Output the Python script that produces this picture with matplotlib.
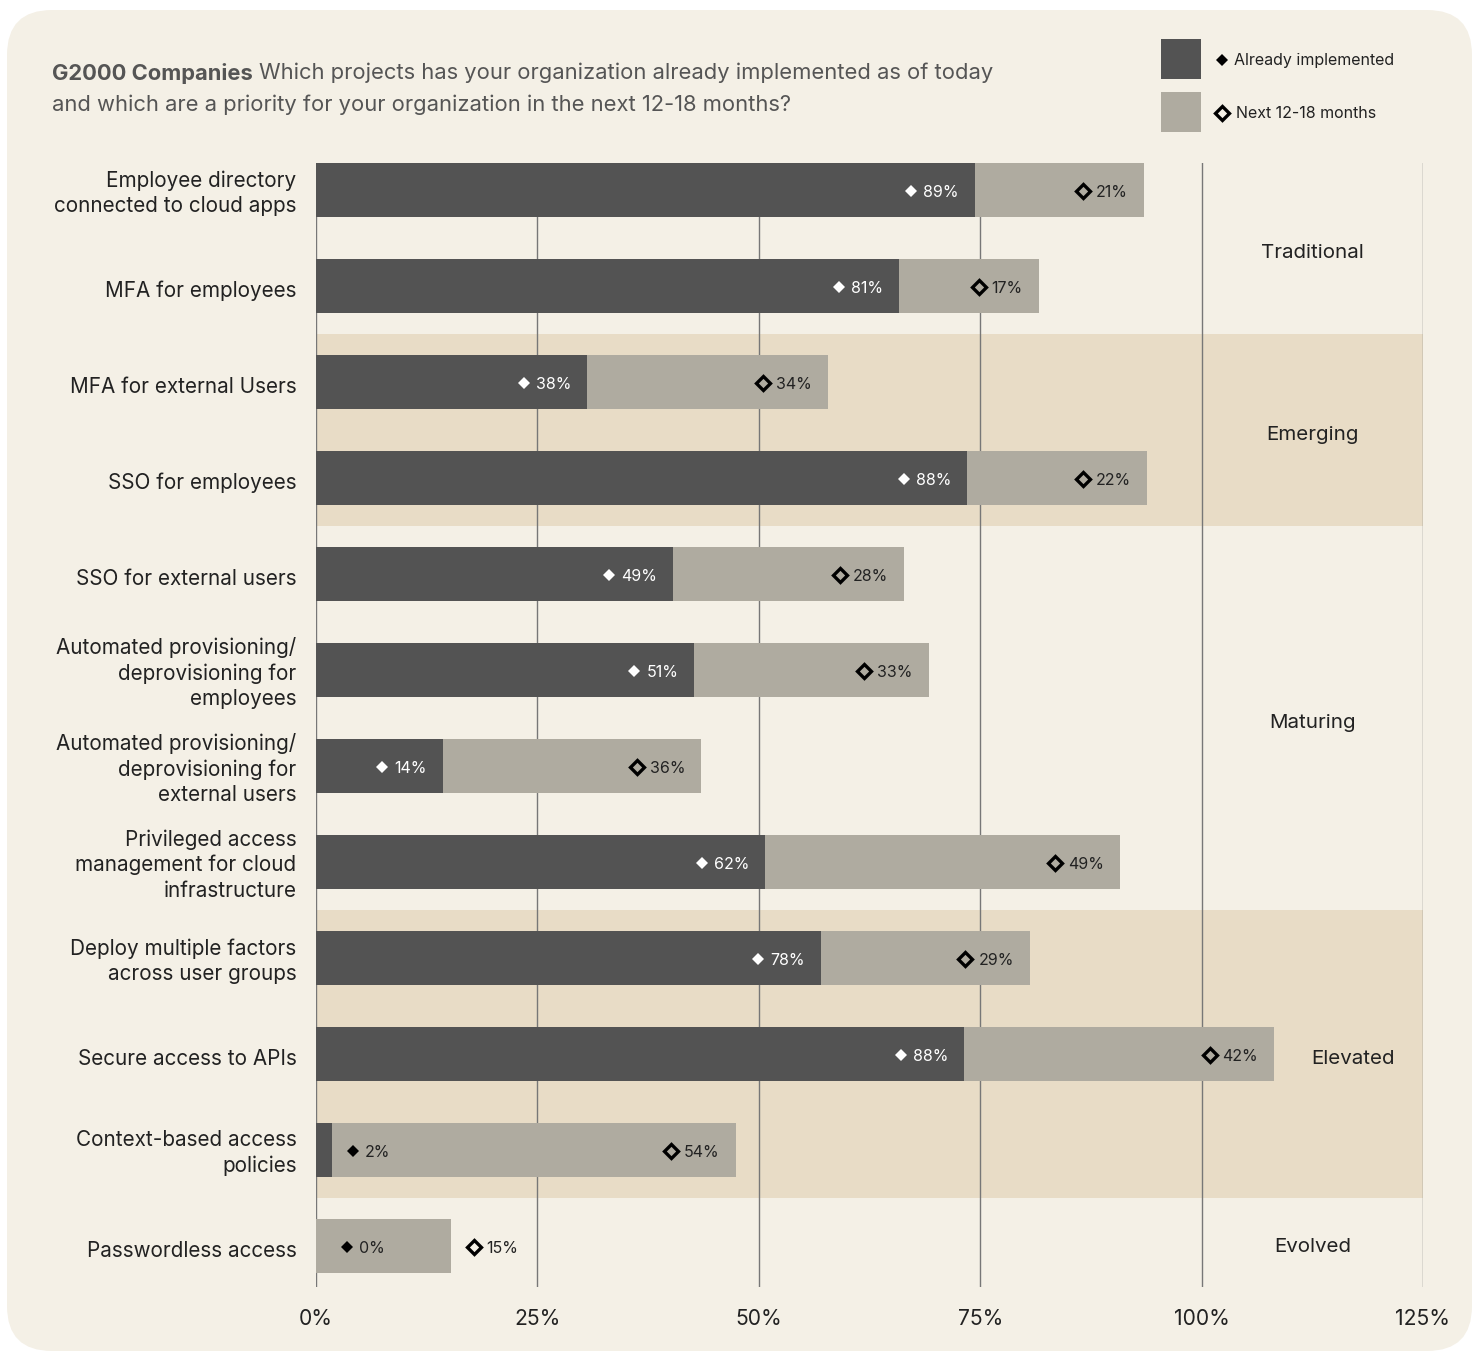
import matplotlib
matplotlib.use('Agg')
import matplotlib.pyplot as plt
from matplotlib.patches import FancyBboxPatch, Rectangle
import numpy as np

plt.rcParams['font.family'] = ['Inter', 'DejaVu Sans']

# Data
categories = [
    'Employee directory\nconnected to cloud apps',
    'MFA for employees',
    'MFA for external Users',
    'SSO for employees',
    'SSO for external users',
    'Automated provisioning/\ndeprovisioning for\nemployees',
    'Automated provisioning/\ndeprovisioning for\nexternal users',
    'Privileged access\nmanagement for cloud\ninfrastructure',
    'Deploy multiple factors\nacross user groups',
    'Secure access to APIs',
    'Context-based access\npolicies',
    'Passwordless access',
]
# bar lengths as drawn (percent of axis)
implemented_bar = [74.4, 65.8, 30.6, 73.5, 40.3, 42.7, 14.3, 50.7, 57.0, 73.2, 1.8, 0.0]
next_bar = [19.1, 15.8, 27.2, 20.3, 26.1, 26.5, 29.2, 40.1, 23.6, 35.0, 45.6, 15.2]
# labelled values
implemented_pct = [89, 81, 38, 88, 49, 51, 14, 62, 78, 88, 2, 0]
next_pct = [21, 17, 34, 22, 28, 33, 36, 49, 29, 42, 54, 15]

stages = ['Traditional', 'Emerging', 'Maturing', 'Elevated', 'Evolved']
stage_first = [0, 2, 4, 8, 11]
stage_last = [1, 3, 7, 10, 11]
stage_shaded = [False, True, False, True, False]
x_ticks = [0, 25, 50, 75, 100, 125]

# colours
BG = '#F4F0E6'
BAND = '#E8DCC6'
DARK = '#535353'
LIGHT = '#AFABA0'
GRID = '#777777'
TXT = '#222222'

W, H = 1483, 1353
fig = plt.figure(figsize=(W / 100, H / 100), dpi=100)
fig.patch.set_facecolor('white')

# overlay axes in pixel coords for background, title and legend
ovl = fig.add_axes([0, 0, 1, 1], zorder=0)
ovl.set_xlim(0, W)
ovl.set_ylim(H, 0)
ovl.axis('off')
ovl.add_patch(FancyBboxPatch((7, 10), 1465, 1341,
                             boxstyle='round,pad=0,rounding_size=45',
                             facecolor=BG, edgecolor='none'))

# main axes
top_px, bot_px, left_px, right_px = 163, 1287, 316, 1423
ax = fig.add_axes([left_px / W, 1 - bot_px / H, (right_px - left_px) / W,
                   (bot_px - top_px) / H], zorder=1)
ax.set_facecolor('none')
row_px = 96
y_top = -(190 - top_px) / row_px
y_bot = 11 + (bot_px - 1246) / row_px
ax.set_xlim(0, 125)
ax.set_ylim(y_bot, y_top)

y = np.arange(len(categories))

# stage bands
for first, last, shaded in zip(stage_first, stage_last, stage_shaded):
    if shaded:
        ax.axhspan(first - 0.5, last + 0.5, color=BAND, zorder=0, lw=0)

for t in x_ticks:
    ax.axvline(t, color=GRID, lw=1, zorder=1)

bar_h = 0.57
ax.barh(y, implemented_bar, height=bar_h, color=DARK, zorder=2)
ax.barh(y, next_bar, left=implemented_bar, height=bar_h, color=LIGHT, zorder=2)

ax.set_xticks(x_ticks, [f'{t}%' for t in x_ticks])
ax.set_yticks(y + 0.03, categories)
ax.tick_params(axis='x', length=0, pad=16, labelsize=15.2, labelcolor=TXT)
ax.tick_params(axis='y', length=0, pad=14, labelsize=14.9, labelcolor=TXT)
for lab in ax.get_yticklabels():
    lab.set_linespacing(1.32)
    if '\n' in lab.get_text():
        lab.set_va('center')
for s in ax.spines.values():
    s.set_visible(False)

# stage labels
for i, name in enumerate(stages):
    lo = stage_first[i] - 0.5 if i > 0 else y_top
    hi = stage_last[i] + 0.5 if i < len(stages) - 1 else y_bot
    xpos = 117.1 if name == 'Elevated' else 112.5
    ax.text(xpos, (lo + hi) / 2 + 0.05, name, ha='center', va='center',
            fontsize=14.8, color=TXT, zorder=3)

# value labels with diamonds
fig.canvas.draw()
renderer = fig.canvas.get_renderer()
inv = ax.transData.inverted()
px_unit = 125 / (right_px - left_px)
pad = 16 * px_unit
gap = 12 * px_unit
gap_h = 13 * px_unit
lab_fs = 11.5
dy = 0.015

for i in range(len(categories)):
    end1 = implemented_bar[i]
    end2 = implemented_bar[i] + next_bar[i]
    yi = i + dy
    # implemented label
    if end1 < 5:
        dx = max(end1 + 2.4, 3.5)
        ax.plot(dx, yi, marker='D', ms=6.5, color='black', mew=0, zorder=4)
        ax.text(dx + gap, yi, f'{implemented_pct[i]}%', ha='left', va='center_baseline',
                fontsize=lab_fs, color=TXT, zorder=4)
    else:
        t1 = ax.text(end1 - pad, yi, f'{implemented_pct[i]}%', ha='right',
                     va='center_baseline', fontsize=lab_fs, color='white', zorder=4)
        bb = t1.get_window_extent(renderer)
        xl = inv.transform((bb.x0, 0))[0]
        ax.plot(xl - gap, yi, marker='D', ms=6.5, color='white', mew=0, zorder=4)
    # next label
    if end2 < 20:
        dx = end2 + 2.6
        ax.plot(dx, yi, marker='D', ms=7.5, mfc='none', mec='black', mew=2.4, zorder=4)
        ax.text(dx + gap_h, yi, f'{next_pct[i]}%', ha='left', va='center_baseline',
                fontsize=lab_fs, color=TXT, zorder=4)
    else:
        t2 = ax.text(end2 - pad, yi, f'{next_pct[i]}%', ha='right', va='center_baseline',
                     fontsize=lab_fs, color=TXT, zorder=4)
        bb = t2.get_window_extent(renderer)
        xl = inv.transform((bb.x0, 0))[0]
        ax.plot(xl - gap_h, yi, marker='D', ms=7.5, mfc='none', mec='black', mew=2.4,
                zorder=4)

# title
title_fs = 15.8
t_bold = ovl.text(52, 73, 'G2000 Companies', fontsize=title_fs, weight='bold',
                  color='#555555', va='center', ha='left')
bb = t_bold.get_window_extent(renderer)
x_after = ovl.transData.inverted().transform((bb.x1, 0))[0]
ovl.text(x_after + 6, 73, 'Which projects has your organization already implemented as of today',
         fontsize=title_fs, color='#555555', va='center', ha='left')
ovl.text(52, 105, 'and which are a priority for your organization in the next 12-18 months?',
         fontsize=title_fs, color='#555555', va='center', ha='left')

# legend
ovl.add_patch(Rectangle((1161, 39), 40, 40, facecolor=DARK, edgecolor='none'))
ovl.add_patch(Rectangle((1161, 92), 40, 40, facecolor=LIGHT, edgecolor='none'))
ovl.plot(1222, 60, marker='D', ms=6.5, color='black', mew=0)
ovl.text(1234, 61, 'Already implemented', fontsize=11.5, color=TXT, va='center', ha='left')
ovl.plot(1222, 113, marker='D', ms=7.5, mfc='none', mec='black', mew=2.4)
ovl.text(1236, 114, 'Next 12-18 months', fontsize=11.5, color=TXT, va='center', ha='left')

fig.savefig('out.png', dpi=100, facecolor=fig.get_facecolor())
